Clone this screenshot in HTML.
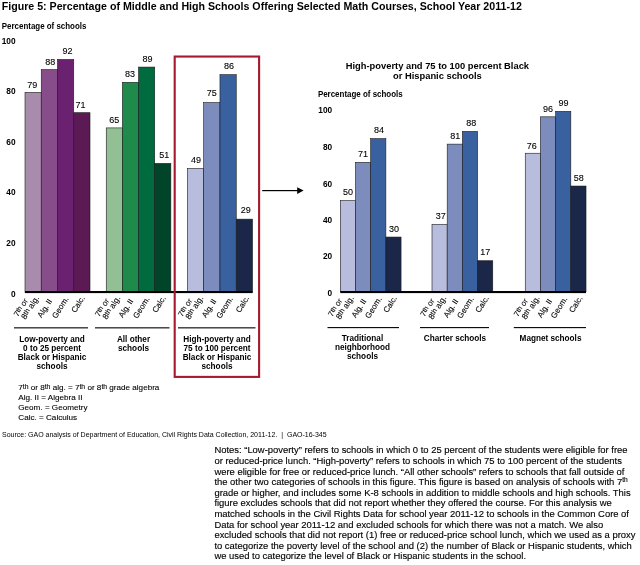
<!DOCTYPE html>
<html lang="en"><head><meta charset="utf-8"><title>Figure 5</title>
<style>
html,body{margin:0;padding:0;background:#fff;}
body{width:640px;height:565px;overflow:hidden;position:relative;font-family:"Liberation Sans", Arial, Helvetica, sans-serif;color:#000;}
svg{position:absolute;left:0;top:0;display:block;}
text{font-family:"Liberation Sans", Arial, Helvetica, sans-serif;fill:#000;}
.b{font-weight:bold;}
.ax{font-weight:bold;font-size:8.3px;text-anchor:end;}
.v{font-size:9px;text-anchor:middle;stroke:#000;stroke-width:0.1px;}
.g{font-weight:bold;font-size:8.2px;text-anchor:middle;}
.r{font-size:8px;text-anchor:end;stroke:#000;stroke-width:0.1px;}
.l{font-size:8.12px;stroke:#000;stroke-width:0.1px;}
.n{font-size:9.43px;stroke:#000;stroke-width:0.13px;}
.bar{stroke:#1a1a1a;stroke-width:0.6;}
</style></head><body>
<svg width="640" height="565" viewBox="0 0 640 565">
<text class="b" x="1.7" y="9.9" font-size="10.65">Figure 5: Percentage of Middle and High Schools Offering Selected Math Courses, School Year 2011-12</text>
<text class="b" x="1.8" y="28.7" font-size="8.3" textLength="84.6" lengthAdjust="spacingAndGlyphs">Percentage of schools</text>
<text class="ax" x="15.5" y="296.7">0</text>
<text class="ax" x="15.5" y="246.0">20</text>
<text class="ax" x="15.5" y="195.3">40</text>
<text class="ax" x="15.5" y="144.6">60</text>
<text class="ax" x="15.5" y="93.9">80</text>
<text class="ax" x="15.5" y="43.8">100</text>
<rect class="bar" x="25.00" y="92.42" width="16.25" height="200.23" fill="#A98CAD"/>
<text class="v" x="32.23" y="87.82">79</text>
<rect class="bar" x="41.25" y="69.61" width="16.25" height="223.04" fill="#874C8A"/>
<text class="v" x="50.27" y="64.61">88</text>
<rect class="bar" x="57.50" y="59.48" width="16.25" height="233.17" fill="#6A2270"/>
<text class="v" x="67.62" y="54.48">92</text>
<rect class="bar" x="73.75" y="112.70" width="16.25" height="179.95" fill="#5C1A55"/>
<text class="v" x="80.58" y="107.70">71</text>
<rect class="bar" x="106.25" y="127.91" width="16.15" height="164.74" fill="#93BF95"/>
<text class="v" x="114.33" y="122.91">65</text>
<rect class="bar" x="122.40" y="82.29" width="16.15" height="210.36" fill="#1E8B4D"/>
<text class="v" x="129.97" y="77.29">83</text>
<rect class="bar" x="138.55" y="67.08" width="16.15" height="225.57" fill="#006B3F"/>
<text class="v" x="147.62" y="62.08">89</text>
<rect class="bar" x="154.70" y="163.39" width="16.15" height="129.26" fill="#00452A"/>
<text class="v" x="164.27" y="158.39">51</text>
<rect class="bar" x="187.40" y="168.46" width="16.28" height="124.19" fill="#B9BDDD"/>
<text class="v" x="196.04" y="163.46">49</text>
<rect class="bar" x="203.68" y="102.56" width="16.28" height="190.09" fill="#7B8CBD"/>
<text class="v" x="211.82" y="96.36">75</text>
<rect class="bar" x="219.96" y="74.68" width="16.28" height="217.97" fill="#3A619F"/>
<text class="v" x="229.10" y="69.18">86</text>
<rect class="bar" x="236.24" y="219.15" width="16.28" height="73.50" fill="#1A2749"/>
<text class="v" x="245.68" y="213.25">29</text>
<rect x="25" y="291" width="227.5" height="2.1" fill="#000"/>
<text class="r" transform="translate(28.30 300.70) rotate(-58)">7<tspan font-size="6.8" dy="-1.2">th</tspan><tspan dy="1.2"> or</tspan></text>
<text class="r" transform="translate(39.40 297.80) rotate(-58)"><tspan font-size="8.3">8</tspan><tspan font-size="7.2" dy="-1.2">th</tspan><tspan dy="1.2" font-size="8.3"> alg.</tspan></text>
<text class="r" transform="translate(52.45 301.00) rotate(-58)">Alg. II</text>
<text class="r" transform="translate(68.90 298.60) rotate(-58)">Geom.</text>
<text class="r" transform="translate(85.15 297.90) rotate(-58)">Calc.</text>
<text class="r" transform="translate(109.55 300.70) rotate(-58)">7<tspan font-size="6.8" dy="-1.2">th</tspan><tspan dy="1.2"> or</tspan></text>
<text class="r" transform="translate(120.65 297.80) rotate(-58)"><tspan font-size="8.3">8</tspan><tspan font-size="7.2" dy="-1.2">th</tspan><tspan dy="1.2" font-size="8.3"> alg.</tspan></text>
<text class="r" transform="translate(133.60 301.00) rotate(-58)">Alg. II</text>
<text class="r" transform="translate(149.95 298.60) rotate(-58)">Geom.</text>
<text class="r" transform="translate(166.10 297.90) rotate(-58)">Calc.</text>
<text class="r" transform="translate(192.60 300.70) rotate(-58)">7<tspan font-size="6.8" dy="-1.2">th</tspan><tspan dy="1.2"> or</tspan></text>
<text class="r" transform="translate(203.70 297.80) rotate(-58)"><tspan font-size="8.3">8</tspan><tspan font-size="7.2" dy="-1.2">th</tspan><tspan dy="1.2" font-size="8.3"> alg.</tspan></text>
<text class="r" transform="translate(216.78 301.00) rotate(-58)">Alg. II</text>
<text class="r" transform="translate(233.26 298.60) rotate(-58)">Geom.</text>
<text class="r" transform="translate(249.54 297.90) rotate(-58)">Calc.</text>
<rect x="14.0" y="327.3" width="74.0" height="1.1" fill="#000"/>
<rect x="95.0" y="327.3" width="74.5" height="1.1" fill="#000"/>
<rect x="178.0" y="327.3" width="77.5" height="1.1" fill="#000"/>
<text class="g" x="52.0" y="341.60">Low-poverty and</text>
<text class="g" x="52.0" y="350.75">0 to 25 percent</text>
<text class="g" x="52.0" y="359.90">Black or Hispanic</text>
<text class="g" x="52.0" y="369.05">schools</text>
<text class="g" x="133.5" y="341.60">All other</text>
<text class="g" x="133.5" y="350.75">schools</text>
<text class="g" x="217.0" y="341.60">High-poverty and</text>
<text class="g" x="217.0" y="350.75">75 to 100 percent</text>
<text class="g" x="217.0" y="359.90">Black or Hispanic</text>
<text class="g" x="217.0" y="369.05">schools</text>
<rect x="174.7" y="56.55" width="84.4" height="320.35" fill="none" stroke="#A6192E" stroke-width="2.1"/>
<rect x="262.2" y="190" width="36" height="1.2" fill="#000"/>
<polygon points="297.2,187.2 303.6,190.6 297.2,194" fill="#000"/>
<text class="l" x="18.3" y="390.3">7<tspan font-size="6.8" dy="-1.3">th</tspan><tspan dy="1.3"> or 8</tspan><tspan font-size="6.8" dy="-1.3">th</tspan><tspan dy="1.3"> alg. = 7</tspan><tspan font-size="6.8" dy="-1.3">th</tspan><tspan dy="1.3"> or 8</tspan><tspan font-size="6.8" dy="-1.3">th</tspan><tspan dy="1.3"> grade algebra</tspan></text>
<text class="l" x="18.3" y="399.9">Alg. II = Algebra II</text>
<text class="l" x="18.3" y="409.7">Geom. = Geometry</text>
<text class="l" x="18.3" y="420">Calc. = Calculus</text>
<text x="2" y="437.2" font-size="7" style="white-space:pre">Source: GAO analysis of Department of Education, Civil Rights Data Collection, 2011-12.  |  GAO-16-345</text>
<text class="b" x="437.4" y="69.2" font-size="9.35" text-anchor="middle">High-poverty and 75 to 100 percent Black</text>
<text class="b" x="437.4" y="79.0" font-size="9.35" text-anchor="middle">or Hispanic schools</text>
<text class="b" x="317.9" y="96.8" font-size="8.3" textLength="84.8" lengthAdjust="spacingAndGlyphs">Percentage of schools</text>
<text class="ax" x="332.2" y="295.8">0</text>
<text class="ax" x="332.2" y="259.4">20</text>
<text class="ax" x="332.2" y="222.9">40</text>
<text class="ax" x="332.2" y="186.5">60</text>
<text class="ax" x="332.2" y="150.1">80</text>
<text class="ax" x="332.2" y="113.3">100</text>
<rect class="bar" x="340.30" y="200.61" width="15.19" height="91.09" fill="#B9BDDD"/>
<text class="v" x="347.90" y="195.01">50</text>
<rect class="bar" x="355.49" y="162.35" width="15.19" height="129.35" fill="#7B8CBD"/>
<text class="v" x="363.09" y="157.05">71</text>
<rect class="bar" x="370.68" y="138.67" width="15.19" height="153.03" fill="#3A619F"/>
<text class="v" x="378.98" y="133.37">84</text>
<rect class="bar" x="385.87" y="237.05" width="15.19" height="54.65" fill="#1A2749"/>
<text class="v" x="393.97" y="231.75">30</text>
<rect class="bar" x="432.00" y="224.29" width="15.19" height="67.41" fill="#B9BDDD"/>
<text class="v" x="440.80" y="218.99">37</text>
<rect class="bar" x="447.19" y="144.13" width="15.19" height="147.57" fill="#7B8CBD"/>
<text class="v" x="455.29" y="138.83">81</text>
<rect class="bar" x="462.38" y="131.38" width="15.19" height="160.32" fill="#3A619F"/>
<text class="v" x="471.18" y="125.58">88</text>
<rect class="bar" x="477.57" y="260.73" width="15.19" height="30.97" fill="#1A2749"/>
<text class="v" x="485.17" y="255.43">17</text>
<rect class="bar" x="525.25" y="153.24" width="15.19" height="138.46" fill="#B9BDDD"/>
<text class="v" x="531.75" y="148.64">76</text>
<rect class="bar" x="540.44" y="116.81" width="15.19" height="174.89" fill="#7B8CBD"/>
<text class="v" x="548.04" y="111.51">96</text>
<rect class="bar" x="555.63" y="111.34" width="15.19" height="180.36" fill="#3A619F"/>
<text class="v" x="563.52" y="105.54">99</text>
<rect class="bar" x="570.82" y="186.04" width="15.19" height="105.66" fill="#1A2749"/>
<text class="v" x="578.72" y="181.34">58</text>
<rect x="340.3" y="291" width="245.7" height="2.1" fill="#000"/>
<text class="r" transform="translate(342.60 300.70) rotate(-58)">7<tspan font-size="6.8" dy="-1.2">th</tspan><tspan dy="1.2"> or</tspan></text>
<text class="r" transform="translate(354.10 297.80) rotate(-58)"><tspan font-size="8.3">8</tspan><tspan font-size="7.2" dy="-1.2">th</tspan><tspan dy="1.2" font-size="8.3"> alg.</tspan></text>
<text class="r" transform="translate(366.69 301.00) rotate(-58)">Alg. II</text>
<text class="r" transform="translate(382.08 298.60) rotate(-58)">Geom.</text>
<text class="r" transform="translate(397.27 297.90) rotate(-58)">Calc.</text>
<text class="r" transform="translate(434.80 300.70) rotate(-58)">7<tspan font-size="6.8" dy="-1.2">th</tspan><tspan dy="1.2"> or</tspan></text>
<text class="r" transform="translate(446.60 297.80) rotate(-58)"><tspan font-size="8.3">8</tspan><tspan font-size="7.2" dy="-1.2">th</tspan><tspan dy="1.2" font-size="8.3"> alg.</tspan></text>
<text class="r" transform="translate(458.69 301.00) rotate(-58)">Alg. II</text>
<text class="r" transform="translate(474.08 298.60) rotate(-58)">Geom.</text>
<text class="r" transform="translate(489.27 297.90) rotate(-58)">Calc.</text>
<text class="r" transform="translate(528.35 300.70) rotate(-58)">7<tspan font-size="6.8" dy="-1.2">th</tspan><tspan dy="1.2"> or</tspan></text>
<text class="r" transform="translate(540.05 297.80) rotate(-58)"><tspan font-size="8.3">8</tspan><tspan font-size="7.2" dy="-1.2">th</tspan><tspan dy="1.2" font-size="8.3"> alg.</tspan></text>
<text class="r" transform="translate(552.34 301.00) rotate(-58)">Alg. II</text>
<text class="r" transform="translate(567.73 298.60) rotate(-58)">Geom.</text>
<text class="r" transform="translate(582.92 297.90) rotate(-58)">Calc.</text>
<rect x="327.5" y="327.05" width="71.5" height="1.1" fill="#000"/>
<rect x="420.0" y="327.05" width="69.0" height="1.1" fill="#000"/>
<rect x="513.8" y="327.05" width="72.2" height="1.1" fill="#000"/>
<text class="g" x="362.5" y="340.80">Traditional</text>
<text class="g" x="362.5" y="350.10">neighborhood</text>
<text class="g" x="362.5" y="359.40">schools</text>
<text class="g" x="455.0" y="340.90">Charter schools</text>
<text class="g" x="550.5" y="340.90">Magnet schools</text>
<text class="n" x="214.4" y="453.30">Notes: “Low-poverty” refers to schools in which 0 to 25 percent of the students were eligible for free</text>
<text class="n" x="214.4" y="463.91">or reduced-price lunch. “High-poverty” refers to schools in which 75 to 100 percent of the students</text>
<text class="n" x="214.4" y="474.52">were eligible for free or reduced-price lunch. “All other schools” refers to schools that fall outside of</text>
<text class="n" x="214.4" y="485.13">the other two categories of schools in this figure. This figure is based on analysis of schools with 7<tspan font-size="6.6" dy="-3.6">th</tspan></text>
<text class="n" x="214.4" y="495.74">grade or higher, and includes some K-8 schools in addition to middle schools and high schools. This</text>
<text class="n" x="214.4" y="506.35">figure excludes schools that did not report whether they offered the course. For this analysis we</text>
<text class="n" x="214.4" y="516.96">matched schools in the Civil Rights Data for school year 2011-12 to schools in the Common Core of</text>
<text class="n" x="214.4" y="527.57">Data for school year 2011-12 and excluded schools for which there was not a match. We also</text>
<text class="n" x="214.4" y="538.18">excluded schools that did not report (1) free or reduced-price school lunch, which we used as a proxy</text>
<text class="n" x="214.4" y="548.79">to categorize the poverty level of the school and (2) the number of Black or Hispanic students, which</text>
<text class="n" x="214.4" y="559.40">we used to categorize the level of Black or Hispanic students in the school.</text>
</svg>
</body></html>
